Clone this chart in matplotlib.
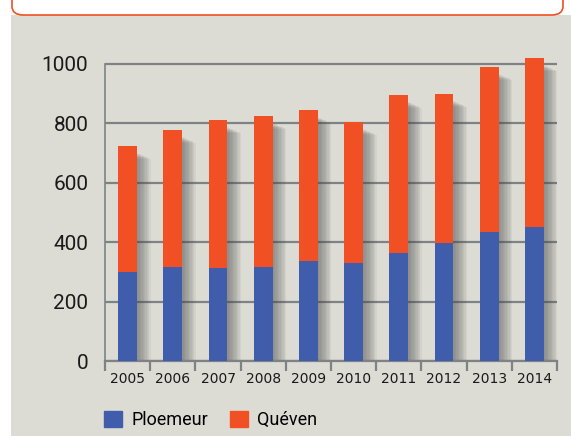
import numpy as np
import matplotlib.pyplot as plt
from matplotlib.patches import FancyBboxPatch, Rectangle

# --- Data ---
years = ['2005', '2006', '2007', '2008', '2009', '2010', '2011', '2012', '2013', '2014']
ploemeur = [301, 316, 313, 316, 336, 330, 364, 397, 434, 451]
total = [724, 778, 811, 825, 845, 805, 896, 899, 990, 1020]
queven = [t - p for t, p in zip(total, ploemeur)]

blue = '#3f5dab'
orange = '#f05023'
bg = '#dcdcd4'
grid_c = '#7f8285'

fig = plt.figure(figsize=(5.71, 4.36), dpi=100)

# background panel and header box (header text is cut off above the image)
fig.patches.append(Rectangle((11 / 571, 0), 560 / 571, 421 / 436, transform=fig.transFigure,
                             facecolor=bg, edgecolor='none', zorder=-2))
fig.patches.append(FancyBboxPatch((12 / 571, 421 / 436), 551 / 571, 40 / 436,
                                  boxstyle='round,pad=0,rounding_size=0.02',
                                  transform=fig.transFigure, facecolor='white',
                                  edgecolor=orange, linewidth=1.2, zorder=-1))

ax = fig.add_axes([105 / 571, 75 / 436, 452 / 571, 312 / 436])
ax.set_facecolor('none')

x = np.arange(len(years))
w = 0.42

# soft drop shadow behind the bars (stacked translucent layers)
for k in range(10):
    top = [t - 15 - k * 2 for t in total]
    ax.bar(x + 0.03 + k * 0.03, top, w, bottom=-10, color='#4a4a4a', alpha=0.065,
           linewidth=0, zorder=2)

ax.bar(x, ploemeur, w, color=blue, zorder=3, label='Ploemeur')
ax.bar(x, queven, w, bottom=ploemeur, color=orange, zorder=3, label='Quéven')

ax.set_xlim(-0.5, len(years) - 0.5)
ax.set_ylim(0, 1050)
ax.set_yticks([0, 200, 400, 600, 800, 1000])
ax.set_yticklabels(['0', '200', '400', '600', '800', '1000'], fontfamily='Roboto')
ax.yaxis.grid(True, color=grid_c, linewidth=1.6, zorder=1)
ax.set_axisbelow(True)

for s in ['top', 'right']:
    ax.spines[s].set_visible(False)
ax.spines['left'].set_color(grid_c)
ax.spines['left'].set_linewidth(1.2)
ax.spines['left'].set_bounds(0, 1000)
ax.spines['bottom'].set_color(grid_c)
ax.spines['bottom'].set_linewidth(1.6)

ax.tick_params(axis='y', length=0, pad=12, labelsize=15, labelcolor='#1a1a1a')
ax.set_xticks(x)
ax.set_xticklabels(years, fontfamily=['Liberation Sans Narrow', 'DejaVu Sans'])
ax.set_xticks(np.arange(-0.5, len(years)), minor=True)
ax.tick_params(axis='x', which='major', length=0, pad=8, labelsize=10, labelcolor='#1a1a1a')
ax.tick_params(axis='x', which='minor', length=7, width=1.6, color=grid_c, direction='out')

fig.legend(handles=[Rectangle((0, 0), 1, 1, color=blue), Rectangle((0, 0), 1, 1, color=orange)],
           labels=['Ploemeur', 'Quéven'], loc='center left', bbox_to_anchor=(104 / 571, 16 / 436),
           ncol=2, frameon=False, prop={'family': 'Roboto', 'size': 13},
           handlelength=1.0, handleheight=0.95, borderpad=0, borderaxespad=0,
           columnspacing=1.2, handletextpad=0.5)

fig.savefig('out.png', dpi=100)
